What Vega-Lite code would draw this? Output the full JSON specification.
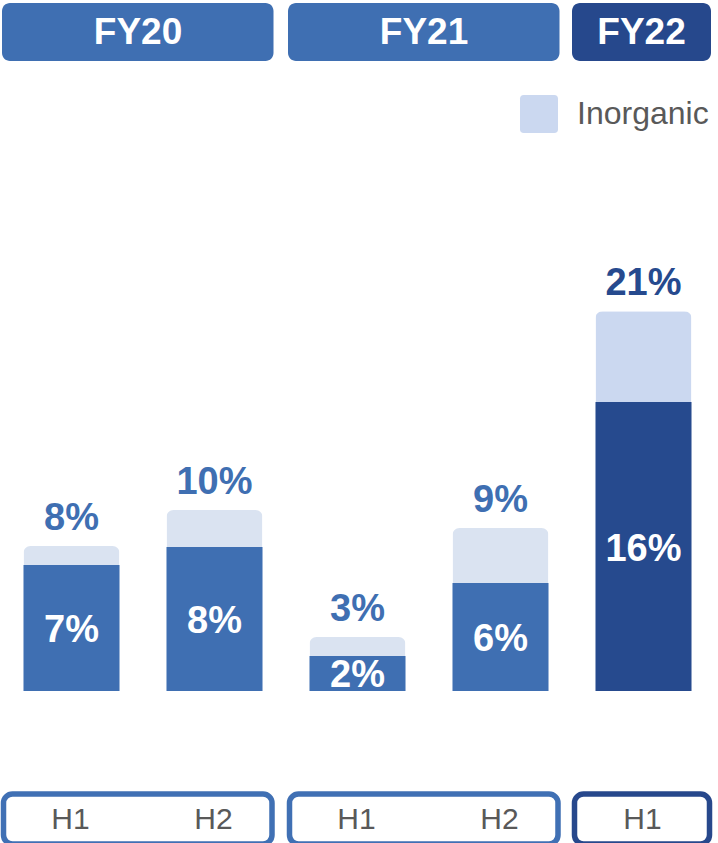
{
  "$schema": "https://vega.github.io/schema/vega-lite/v6.json",
  "padding": {"top": 3, "bottom": 2, "left": 0, "right": 3},
  "spacing": 0,
  "config": {"view": {"stroke": null}, "font": "Liberation Sans"},
  "data": {
    "values": [
      {"idx": 0, "fy": "FY20", "half": "H1", "organic": 0.07, "total": 0.0805},
      {"idx": 1, "fy": "FY20", "half": "H2", "organic": 0.08, "total": 0.1005},
      {"idx": 2, "fy": "FY21", "half": "H1", "organic": 0.0195, "total": 0.03},
      {"idx": 3, "fy": "FY21", "half": "H2", "organic": 0.06, "total": 0.0905},
      {"idx": 4, "fy": "FY22", "half": "H1", "organic": 0.1605, "total": 0.211}
    ]
  },
  "vconcat": [
    {
      "width": 715,
      "height": 58,
      "transform": [
        {"aggregate": [
          {"op": "min", "field": "idx", "as": "lo"},
          {"op": "max", "field": "idx", "as": "hi"},
          {"op": "mean", "field": "idx", "as": "mid"}
        ], "groupby": ["fy"]}
      ],
      "layer": [
        {
          "transform": [{"filter": "datum.fy !== 'FY22'"}],
          "mark": {"type": "rect", "cornerRadius": 8, "xOffset": -69.5, "x2Offset": 59, "color": "#3F6FB2"},
          "encoding": {
            "x": {"field": "lo", "type": "quantitative", "scale": {"domain": [-0.5, 4.5], "nice": false, "zero": false, "padding": 0}, "axis": null},
            "x2": {"field": "hi"}
          }
        },
        {
          "transform": [{"filter": "datum.fy === 'FY22'"}],
          "mark": {"type": "rect", "cornerRadius": 8, "xOffset": -71.5, "x2Offset": 67.5, "color": "#26488C"},
          "encoding": {
            "x": {"field": "lo", "type": "quantitative", "scale": {"domain": [-0.5, 4.5], "nice": false, "zero": false, "padding": 0}, "axis": null},
            "x2": {"field": "hi"}
          }
        },
        {
          "transform": [{"filter": "datum.fy !== 'FY22'"}],
          "mark": {"type": "text", "color": "white", "fontSize": 37, "fontWeight": "bold", "baseline": "middle", "dx": -5, "dy": 1},
          "encoding": {
            "x": {"field": "mid", "type": "quantitative", "scale": {"domain": [-0.5, 4.5], "nice": false, "zero": false, "padding": 0}, "axis": null},
            "text": {"field": "fy"}
          }
        },
        {
          "transform": [{"filter": "datum.fy === 'FY22'"}],
          "mark": {"type": "text", "color": "white", "fontSize": 37, "fontWeight": "bold", "baseline": "middle", "dx": -2, "dy": 1},
          "encoding": {
            "x": {"field": "mid", "type": "quantitative", "scale": {"domain": [-0.5, 4.5], "nice": false, "zero": false, "padding": 0}, "axis": null},
            "text": {"field": "fy"}
          }
        }
      ]
    },
    {
      "width": 715,
      "height": 730,
      "transform": [{"calculate": "datum.organic / 2", "as": "mid"}],
      "encoding": {
        "x": {"field": "idx", "type": "quantitative", "scale": {"domain": [-0.5, 4.5], "nice": false, "zero": false, "padding": 0}, "axis": null}
      },
      "layer": [
        {
          "mark": {"type": "bar", "size": 96, "cornerRadiusTopLeft": 7, "cornerRadiusTopRight": 7},
          "encoding": {
            "y": {"field": "total", "type": "quantitative", "scale": {"domain": [-0.0555556, 0.35], "nice": false, "zero": false}, "axis": null},
            "color": {
              "condition": {"test": "datum.fy !== 'FY22'", "value": "#DAE3F1"},
              "datum": "Inorganic",
              "scale": {"domain": ["Inorganic"], "range": ["#CBD8F0"]},
              "legend": {
                "title": null,
                "orient": "none",
                "legendX": 520,
                "legendY": 92,
                "padding": 0,
                "symbolType": "M -0.8,-1 L 0.8,-1 Q 1,-1 1,-0.8 L 1,0.8 Q 1,1 0.8,1 L -0.8,1 Q -1,1 -1,0.8 L -1,-0.8 Q -1,-1 -0.8,-1 Z",
                "symbolSize": 1444,
                "symbolStrokeWidth": 0,
                "symbolOpacity": 1,
                "labelFontSize": 32,
                "labelColor": "#595959",
                "labelFont": "Liberation Sans",
                "labelOffset": 19
              }
            }
          }
        },
        {
          "mark": {"type": "bar", "size": 96},
          "encoding": {
            "y": {"field": "organic", "type": "quantitative", "scale": {"domain": [-0.0555556, 0.35], "nice": false, "zero": false}, "axis": null},
            "color": {"condition": {"test": "datum.fy === 'FY22'", "value": "#264A8E"}, "value": "#3F6FB2"}
          }
        },
        {
          "mark": {"type": "text", "fontSize": 38, "fontWeight": "bold", "baseline": "alphabetic", "dy": -16},
          "encoding": {
            "y": {"field": "total", "type": "quantitative", "scale": {"domain": [-0.0555556, 0.35], "nice": false, "zero": false}, "axis": null},
            "text": {"field": "total", "type": "quantitative", "format": ".0%"},
            "color": {"condition": {"test": "datum.fy === 'FY22'", "value": "#264A8E"}, "value": "#3F6FB2"}
          }
        },
        {
          "mark": {"type": "text", "fontSize": 38, "fontWeight": "bold", "baseline": "middle", "color": "white", "dy": 3},
          "encoding": {
            "y": {"field": "mid", "type": "quantitative", "scale": {"domain": [-0.0555556, 0.35], "nice": false, "zero": false}, "axis": null},
            "text": {"field": "organic", "type": "quantitative", "format": ".0%"}
          }
        }
      ]
    },
    {
      "width": 715,
      "height": 50,
      "layer": [
        {
          "transform": [
            {"aggregate": [{"op": "min", "field": "idx", "as": "lo"}, {"op": "max", "field": "idx", "as": "hi"}], "groupby": ["fy"]},
            {"filter": "datum.fy !== 'FY22'"}
          ],
          "mark": {"type": "rect", "cornerRadius": 9, "xOffset": -68, "x2Offset": 57.5, "fill": "white", "stroke": "#4070B4", "strokeWidth": 5.5},
          "encoding": {
            "x": {"field": "lo", "type": "quantitative", "scale": {"domain": [-0.5, 4.5], "nice": false, "zero": false, "padding": 0}, "axis": null},
            "x2": {"field": "hi"}
          }
        },
        {
          "transform": [
            {"aggregate": [{"op": "min", "field": "idx", "as": "lo"}, {"op": "max", "field": "idx", "as": "hi"}], "groupby": ["fy"]},
            {"filter": "datum.fy === 'FY22'"}
          ],
          "mark": {"type": "rect", "cornerRadius": 9, "xOffset": -69, "x2Offset": 66, "fill": "white", "stroke": "#27488C", "strokeWidth": 5.5},
          "encoding": {
            "x": {"field": "lo", "type": "quantitative", "scale": {"domain": [-0.5, 4.5], "nice": false, "zero": false, "padding": 0}, "axis": null},
            "x2": {"field": "hi"}
          }
        },
        {
          "mark": {"type": "text", "fontSize": 30, "color": "#595959", "baseline": "middle", "dy": 1, "dx": -1},
          "encoding": {
            "x": {"field": "idx", "type": "quantitative", "scale": {"domain": [-0.5, 4.5], "nice": false, "zero": false, "padding": 0}, "axis": null},
            "text": {"field": "half"}
          }
        }
      ]
    }
  ]
}
